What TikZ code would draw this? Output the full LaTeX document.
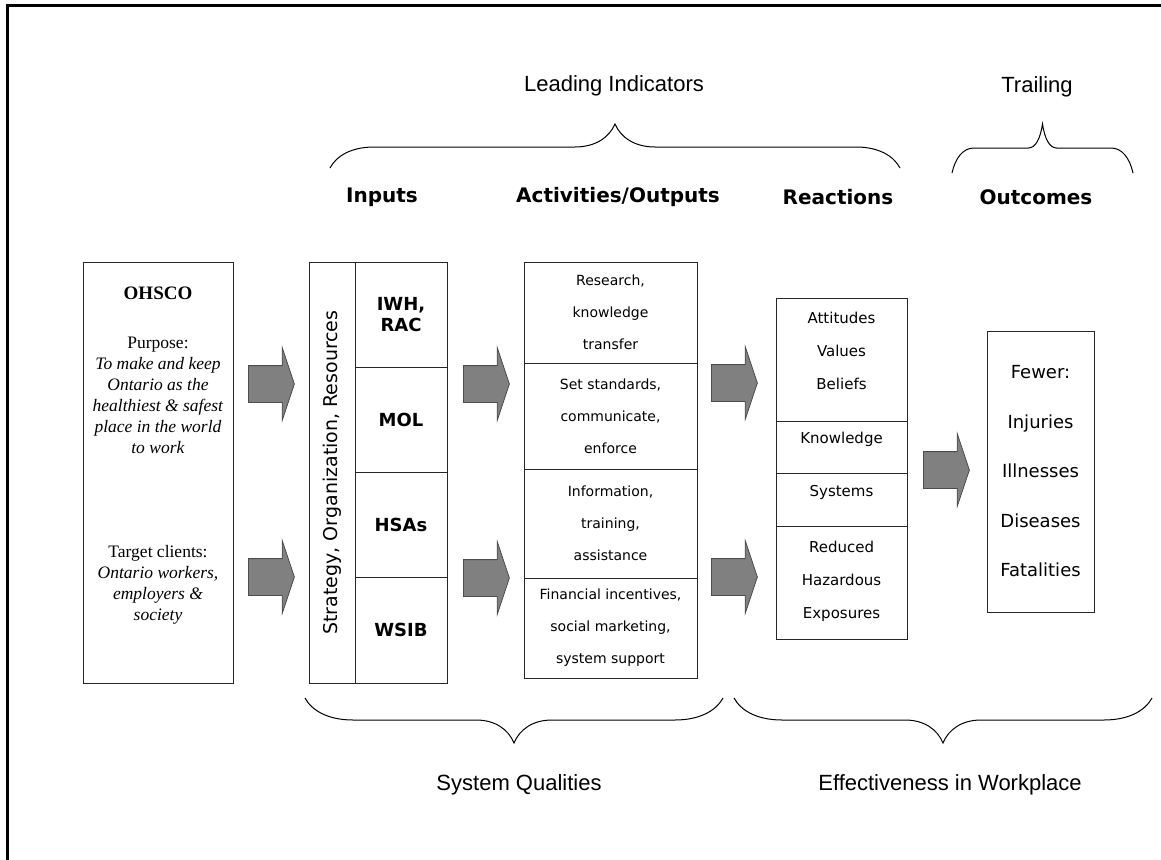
\documentclass[tikz,border=0pt]{standalone}
\usepackage{fontspec}
\setmainfont{Liberation Serif}
\newfontfamily\tahoma{DejaVu Sans}
\newfontfamily\arial{Liberation Sans}
\usetikzlibrary{positioning}
\usetikzlibrary{shapes.arrows}

% curly brace: x-left, x-right, y-ends, y-middle, y-tip, corner width, tip width
\newcommand{\hbrace}[7]{%
  \pgfmathsetmacro{\bracemid}{(#1+#2)/2}%
  \pgfmathsetmacro{\bracecy}{#3+0.6*(#4-#3)}%
  \pgfmathsetmacro{\bracety}{#4+0.4*(#5-#4)}%
  \draw[bracestyle] (#1,#3) .. controls ({#1+0.15*#6},\bracecy) and ({#1+0.5*#6},#4) .. ({#1+#6},#4)
    -- ({\bracemid-#7},#4) .. controls ({\bracemid-0.5*#7},#4) and ({\bracemid-0.15*#7},\bracety) .. (\bracemid,#5)
    .. controls ({\bracemid+0.15*#7},\bracety) and ({\bracemid+0.5*#7},#4) .. ({\bracemid+#7},#4)
    -- ({#2-#6},#4) .. controls ({#2-0.5*#6},#4) and ({#2-0.15*#6},\bracecy) .. (#2,#3);
}

\begin{document}
\begin{tikzpicture}[x=1pt, y=-1pt]
   \useasboundingbox (0,0) rectangle (1161,859);
   \clip (0,0) rectangle (1161,859);
   \tikzset{cell/.style={draw=black!85, line width=1pt, inner sep=0pt, outer sep=0pt, anchor=north west, align=center}}
   \tikzset{fatarrow/.style={single arrow, draw=black!70, fill=black!50, line width=0.8pt,
      minimum height=46pt, inner xsep=0pt, inner ysep=18pt, text height=0pt, text depth=0pt,
      single arrow head extend=18pt, single arrow tip angle=143, anchor=tail}}
   \tikzset{bracestyle/.style={draw=black, line width=1pt}}
   \tikzset{heading/.style={font=\tahoma\bfseries\fontsize{20}{24}\selectfont}}
   \tikzset{group/.style={font=\arial\fontsize{22}{26}\selectfont}}
   \tikzset{agency/.style={font=\tahoma\bfseries\fontsize{18}{21}\selectfont, align=center}}
   \tikzset{activity/.style={font=\tahoma\fontsize{14}{32}\selectfont, align=center}}
   \tikzset{reaction/.style={font=\tahoma\fontsize{15}{33}\selectfont, align=center}}
   \tikzset{outcome/.style={font=\tahoma\fontsize{18}{49.5}\selectfont, align=center}}
   \tikzset{serif/.style={font=\fontsize{17.5}{21}\selectfont, align=center}}

   % frame
   \draw[line width=3pt] (1170,6) -| (7,870);

   % group labels and braces
   \node[group] (leading) at (614,86) {Leading Indicators};
   \node[group] (trailing) at (1037,87) {Trailing};
   \hbrace{330}{900}{168}{147}{124}{44}{40}
   \hbrace{952}{1133}{173}{148}{124}{22}{14}
   \node[heading] (inputs) at (382,197) {Inputs};
   \node[heading] (activities) at (618,197) {Activities/Outputs};
   \node[heading] (reactions) at (838,197) {Reactions};
   \node[heading] (outcomes) at (1036,197) {Outcomes};
   \hbrace{305}{723}{698}{720}{743}{48}{38}
   \hbrace{734}{1152}{698}{720}{743}{48}{38}
   \node[group] (qualities) at (519,785) {System Qualities};
   \node[group] (effect) at (950,785) {Effectiveness in Workplace};

   % OHSCO
   \node[cell, minimum width=150pt, minimum height=421pt] (ohsco) at (83,262) {};
   \node[font=\bfseries\fontsize{19}{21}\selectfont] (ohsconame) at (158,293) {OHSCO};
   \node[serif] (purpose) at (158,395) {Purpose:\\ \textit{To make and keep}\\ \textit{Ontario as the}\\
      \textit{healthiest \& safest}\\ \textit{place in the world}\\ \textit{to work}};
   \node[serif] (clients) at (158,585) {Target clients:\\ \textit{Ontario workers,}\\ \textit{employers \&}\\ \textit{society}};

   % inputs
   \node[cell, minimum width=46pt, minimum height=421pt] (strat) at (309,262) {};
   \node[rotate=90, font=\tahoma\fontsize{19}{22}\selectfont] (stratlabel) at (strat.center) {Strategy, Organization, Resources};
   \node[cell, agency, minimum width=92pt, minimum height=105.25pt] (iwh) at (355,262) {IWH,\\RAC};
   \node[cell, agency, minimum width=92pt, minimum height=105.25pt, below=0pt of iwh] (mol) {MOL};
   \node[cell, agency, minimum width=92pt, minimum height=105.25pt, below=0pt of mol] (hsa) {HSAs};
   \node[cell, agency, minimum width=92pt, minimum height=105.25pt, below=0pt of hsa] (wsib) {WSIB};

   % activities / outputs
   \node[cell, activity, minimum width=173pt, minimum height=101pt] (research) at (524,262) {Research,\\knowledge\\transfer};
   \node[cell, activity, minimum width=173pt, minimum height=106pt, below=0pt of research] (standards) {Set standards,\\communicate,\\enforce};
   \node[cell, activity, minimum width=173pt, minimum height=109pt, below=0pt of standards] (info) {Information,\\training,\\assistance};
   \node[cell, activity, minimum width=173pt, minimum height=100pt, below=0pt of info] (finance) {Financial incentives,\\social marketing,\\system support};

   % reactions
   \node[cell, minimum width=131pt, minimum height=123pt] (attitude) at (776,298) {};
   \node[cell, minimum width=131pt, minimum height=52pt, below=0pt of attitude] (knowledge) {};
   \node[cell, minimum width=131pt, minimum height=53pt, below=0pt of knowledge] (systems) {};
   \node[cell, minimum width=131pt, minimum height=113pt, below=0pt of systems] (exposure) {};
   \node[reaction] (attlabel) at ([yshift=9pt]attitude.center) {Attitudes\\Values\\Beliefs};
   \node[reaction] (knowlabel) at ([yshift=8pt]knowledge.center) {Knowledge};
   \node[reaction] (syslabel) at ([yshift=7pt]systems.center) {Systems};
   \node[reaction] (explabel) at ([yshift=1pt]exposure.center) {Reduced\\Hazardous\\Exposures};

   % outcomes
   \node[cell, outcome, minimum width=107pt, minimum height=281pt] (fewer) at (987,331) {Fewer:\\Injuries\\Illnesses\\Diseases\\Fatalities};

   % block arrows
   \node[fatarrow] (arrin1) at (248,384) {};
   \node[fatarrow] (arrin2) at (248,577) {};
   \node[fatarrow] (arract1) at (463,384) {};
   \node[fatarrow] (arract2) at (463,578) {};
   \node[fatarrow] (arrre1) at (711,383) {};
   \node[fatarrow] (arrre2) at (711,577) {};
   \node[fatarrow] (arrout) at (923,470) {};
\end{tikzpicture}
\end{document}
